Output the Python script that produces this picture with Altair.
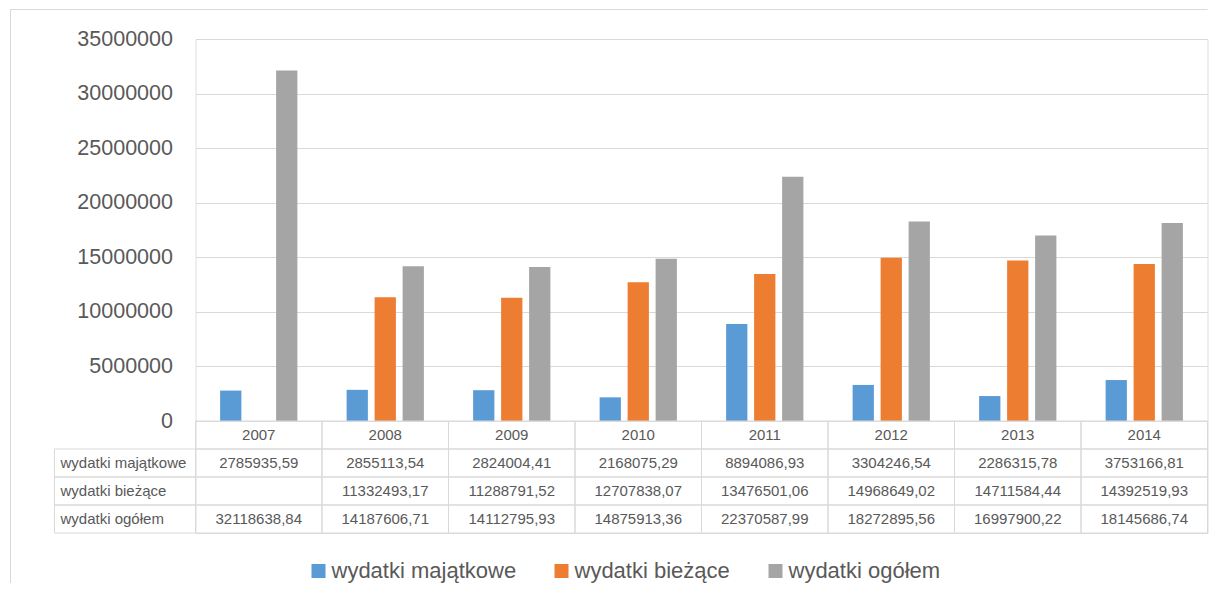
import altair as alt
import pandas as pd

years = ["2007", "2008", "2009", "2010", "2011", "2012", "2013", "2014"]
series = ["wydatki majątkowe", "wydatki bieżące", "wydatki ogółem"]
majatkowe = [2785935.59, 2855113.54, 2824004.41, 2168075.29, 8894086.93, 3304246.54, 2286315.78, 3753166.81]
biezace = [None, 11332493.17, 11288791.52, 12707838.07, 13476501.06, 14968649.02, 14711584.44, 14392519.93]
ogolem = [32118638.84, 14187606.71, 14112795.93, 14875913.36, 22370587.99, 18272895.56, 16997900.22, 18145686.74]
colors = ["#5B9BD5", "#ED7D31", "#A5A5A5"]
y_ticks = [0, 5000000, 10000000, 15000000, 20000000, 25000000, 30000000, 35000000]

HEADER = " "
rows = [HEADER] + series
TXT = "#595959"
LINE = "#d9d9d9"

values_by_series = dict(zip(series, [majatkowe, biezace, ogolem]))

bar_records = []
for s in series:
    for y, v in zip(years, values_by_series[s]):
        if v is not None:
            bar_records.append({"year": y, "series": s, "value": v})
bar_df = pd.DataFrame(bar_records)

table_records = []
for y in years:
    table_records.append({"year": y, "row": HEADER, "text": y})
for s in series:
    for y, v in zip(years, values_by_series[s]):
        txt = "" if v is None else f"{v:.2f}".replace(".", ",")
        table_records.append({"year": y, "row": s, "text": txt})
table_df = pd.DataFrame(table_records)
label_df = pd.DataFrame({"row": series})
one = pd.DataFrame({"a": [0]})

W, H = 1012, 382

x_enc = alt.X("year:N", sort=years, scale=alt.Scale(domain=years, paddingInner=0, paddingOuter=0), axis=None)

bars = alt.Chart(bar_df).mark_bar().encode(
    x=x_enc,
    xOffset=alt.XOffset("series:N", sort=series,
                        scale=alt.Scale(domain=series, paddingInner=0.24, paddingOuter=0.879)),
    y=alt.Y("value:Q",
            scale=alt.Scale(domain=[0, 35000000], nice=False, zero=True),
            axis=alt.Axis(values=y_ticks, format="d", title=None, domain=False, ticks=False,
                          labelPadding=23, labelFontSize=21.5, labelColor=TXT,
                          gridColor=LINE, gridWidth=1)),
    color=alt.Color("series:N", sort=series,
                    scale=alt.Scale(domain=series, range=colors),
                    legend=alt.Legend(orient="none", legendX=112, legendY=521, direction="horizontal",
                                      title=None, symbolType="square", symbolSize=196,
                                      symbolStrokeWidth=0, labelFontSize=22, labelColor=TXT,
                                      labelLimit=0, labelOffset=2, columnPadding=34, padding=0)),
)

border_top = alt.Chart(one).mark_rule(color=LINE, strokeWidth=1).encode(
    x=alt.value(-185), x2=alt.value(1012), y=alt.value(-29.5))
border_left = alt.Chart(one).mark_rule(color=LINE, strokeWidth=1).encode(
    x=alt.value(-185), y=alt.value(-29.5), y2=alt.value(544))

top = alt.layer(border_top, border_left, bars).properties(width=W, height=H)

y_enc = alt.Y("row:N", sort=rows, scale=alt.Scale(domain=rows, paddingInner=0, paddingOuter=0), axis=None)

cells = alt.Chart(table_df).mark_rect(fillOpacity=0, stroke=LINE, strokeWidth=1).encode(x=x_enc, y=y_enc)
cell_text = alt.Chart(table_df).mark_text(fontSize=15, color=TXT).encode(x=x_enc, y=y_enc, text="text:N")
label_cells = alt.Chart(label_df).mark_rect(fillOpacity=0, stroke=LINE, strokeWidth=1).encode(
    x=alt.value(-141), x2=alt.value(0), y=y_enc)
label_text = alt.Chart(label_df).mark_text(fontSize=15, color=TXT, align="left").encode(
    x=alt.value(-135), y=y_enc, text="row:N")

bottom = alt.layer(cells, label_cells, cell_text, label_text).properties(width=W, height=112)

chart = alt.vconcat(top, bottom, spacing=0, bounds="flush").properties(
    padding={"left": 1.5, "top": 0, "right": 0, "bottom": 0}
).configure_view(stroke=None).configure(font="Liberation Sans")

chart.save("out.html", embed_options={"renderer": "svg", "actions": False})
